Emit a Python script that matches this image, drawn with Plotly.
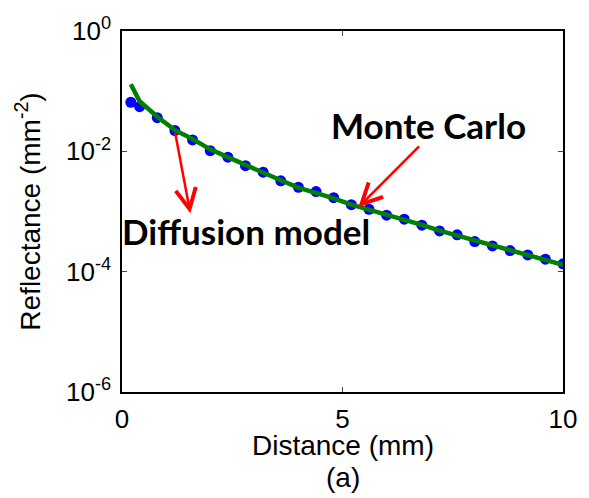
import numpy as np
import plotly.graph_objects as go

# Data
distance_mm = [0.2, 0.4, 0.8, 1.2, 1.6, 2.0, 2.4, 2.8, 3.2, 3.6, 4.0, 4.4, 4.8,
               5.2, 5.6, 6.0, 6.4, 6.8, 7.2, 7.6, 8.0, 8.4, 8.8, 9.2, 9.6, 10.0]
monte_carlo = [0.0654, 0.0553, 0.0363, 0.0221, 0.01545, 0.01027, 0.00798, 0.00578,
               0.0045, 0.00323, 0.00253, 0.00214, 0.00170, 0.00130, 0.00109, 0.000868,
               0.000745, 0.000592, 0.000476, 0.000409, 0.000316, 0.000268, 0.000224,
               0.000190, 0.000161, 0.000135]
diffusion = [0.130, 0.068, 0.0375, 0.0225, 0.0160, 0.0108, 0.0080, 0.0059, 0.0045,
             0.0033, 0.0025, 0.00205, 0.00165, 0.00130, 0.00108, 0.00088, 0.00074,
             0.00060, 0.00048, 0.00040, 0.00032, 0.00027, 0.000225, 0.000190,
             0.000160, 0.000130]
x_ticks = [0, 5, 10]
y_tickvals = [1e-6, 1e-4, 1e-2, 1e0]
y_ticktext = ["10<sup>-6</sup>", "10<sup>-4</sup>", "10<sup>-2</sup>", "10<sup>0</sup>"]

fig = go.Figure()
fig.add_trace(go.Scatter(x=distance_mm, y=monte_carlo, mode="markers",
                         marker=dict(color="rgb(0,0,255)", size=11, line=dict(width=0)),
                         name="Monte Carlo"))
fig.add_trace(go.Scatter(x=distance_mm, y=diffusion, mode="lines",
                         line=dict(color="rgb(0,128,0)", width=4.5),
                         name="Diffusion model"))

tick_font = dict(family="Liberation Sans, Arial", size=26, color="black")
title_font = dict(family="Liberation Sans, Arial", size=28, color="black")
fig.update_xaxes(range=[0, 10], tickvals=x_ticks, ticks="inside", ticklen=5,
                 showline=True, linecolor="black", linewidth=1.5, mirror="ticks",
                 showgrid=False, zeroline=False, tickfont=tick_font,
                 ticklabelstandoff=3)
fig.update_yaxes(type="log", range=[-6, 0], tickvals=y_tickvals, ticktext=y_ticktext,
                 ticks="inside", ticklen=5, showline=True, linecolor="black",
                 linewidth=1.5, mirror="ticks", showgrid=False, zeroline=False,
                 tickfont=tick_font, ticklabelstandoff=4,
                 title=dict(text="Reflectance (mm<sup>-2</sup>)", font=title_font, standoff=17))

fig.add_annotation(x=0.5, y=-0.148, xref="paper", yref="paper", text="Distance (mm)",
                   showarrow=False, xanchor="center", yanchor="middle", font=title_font)
fig.add_annotation(x=0.5, y=-0.2375, xref="paper", yref="paper", text="(a)",
                   showarrow=False, xanchor="center", yanchor="middle", font=title_font)

bold_font = dict(family="Lato, Noto Sans, sans-serif", size=35, color="black", weight="bold")
fig.add_annotation(x=6.95, y=-1.57, xref="x", yref="y", text="Monte Carlo",
                   showarrow=False, font=bold_font)
fig.add_annotation(x=2.82, y=-3.33, xref="x", yref="y", text="Diffusion model",
                   showarrow=False, font=bold_font)

arrow_style = dict(showarrow=True, arrowhead=5, arrowsize=1.6, arrowwidth=2.5,
                   arrowcolor="rgb(255,0,0)", text="", xref="x", yref="y",
                   axref="x", ayref="y")
fig.add_annotation(x=1.55, y=-3.03, ax=1.2, ay=-1.669, **arrow_style)
fig.add_annotation(x=5.36, y=-2.929, ax=6.77, ay=-1.894, **arrow_style)

fig.add_annotation(x=-0.071, y=-0.285, xref="paper", yref="paper", text="0",
                   showarrow=False, xanchor="center", yanchor="top",
                   font=dict(family="Liberation Sans, Arial", size=18, color="black"))

fig.update_layout(width=589, height=498, margin=dict(l=122, r=16, t=31, b=106),
                  plot_bgcolor="white", paper_bgcolor="white", showlegend=False)

fig.write_html("out.html")
